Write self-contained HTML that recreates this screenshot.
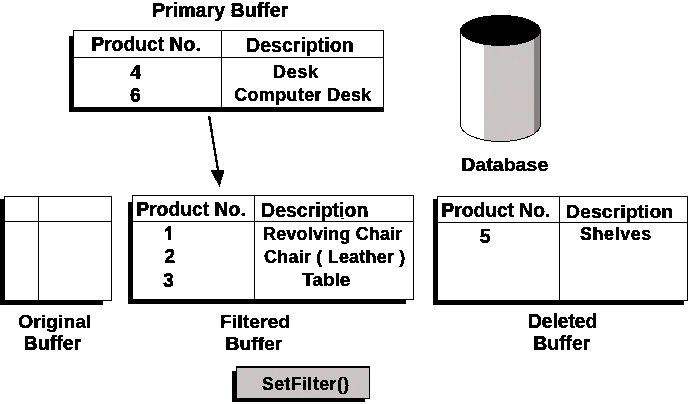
<!DOCTYPE html>
<html>
<head>
<meta charset="utf-8">
<title>Buffers</title>
<style>
html,body{margin:0;padding:0;background:#fff;}
body{width:693px;height:404px;overflow:hidden;position:relative;font-family:"Liberation Sans",sans-serif;}
svg{position:absolute;left:0;top:0;display:block;}
text{font-family:"Liberation Sans",sans-serif;font-weight:bold;fill:#000;stroke:#000;stroke-width:0.4px;stroke-linejoin:round;}
.h{font-size:18px;}
.r{font-size:17px;}
</style>
</head>
<body>
<svg width="693" height="404" viewBox="0 0 693 404">
<rect x="0" y="0" width="693" height="404" fill="#fff"/>
<g shape-rendering="crispEdges" fill="#000">
  <!-- Primary table -->
  <rect x="69" y="36" width="4" height="76"/>
  <rect x="69" y="107" width="315" height="5"/>
  <rect x="73" y="30" width="311" height="1"/>
  <rect x="73" y="30" width="1" height="78"/>
  <rect x="383" y="30" width="1" height="78"/>
  <rect x="73" y="57" width="311" height="1"/>
  <rect x="221" y="30" width="1" height="78"/>

  <!-- Original table -->
  <rect x="0" y="199" width="4" height="106"/>
  <rect x="0" y="300" width="103" height="5"/>
  <rect x="4" y="196" width="108" height="1"/>
  <rect x="4" y="196" width="1" height="105"/>
  <rect x="111" y="196" width="1" height="105"/>
  <rect x="4" y="300" width="108" height="1"/>
  <rect x="4" y="221" width="108" height="1"/>
  <rect x="38" y="196" width="1" height="105"/>

  <!-- Filtered table -->
  <rect x="128" y="202" width="4" height="102"/>
  <rect x="128" y="299" width="278" height="5"/>
  <rect x="132" y="195" width="282" height="1"/>
  <rect x="132" y="195" width="1" height="105"/>
  <rect x="413" y="195" width="1" height="105"/>
  <rect x="132" y="299" width="282" height="1"/>
  <rect x="132" y="221" width="282" height="1"/>
  <rect x="254" y="195" width="1" height="105"/>

  <!-- Deleted table -->
  <rect x="433" y="199" width="4" height="106"/>
  <rect x="433" y="300" width="251" height="5"/>
  <rect x="437" y="196" width="251" height="1"/>
  <rect x="437" y="196" width="1" height="105"/>
  <rect x="687" y="196" width="1" height="105"/>
  <rect x="437" y="300" width="251" height="1"/>
  <rect x="437" y="222" width="251" height="1"/>
  <rect x="559" y="196" width="1" height="105"/>

  <!-- Button -->
  <rect x="232" y="371" width="5" height="31"/>
  <rect x="232" y="398" width="133" height="4"/>
  <rect x="236" y="366" width="134" height="33"/>
  <rect x="237" y="368" width="132" height="30" fill="#c8c6c5"/>
</g>

<rect x="237" y="368" width="132" height="30" fill="#000" filter="url(#tx)"/>
<rect x="341" y="218" width="3" height="1" fill="#000" shape-rendering="crispEdges"/>
<!-- Arrow -->
<line x1="209.1" y1="116" x2="218.4" y2="172" stroke="#000" stroke-width="2.3" shape-rendering="crispEdges"/>
<polygon points="210.5,170.3 224.5,170.3 219.5,187" fill="#000" shape-rendering="crispEdges"/>

<!-- Cylinder -->
<defs>
  <filter id="tx" x="0" y="0" width="693" height="404" filterUnits="userSpaceOnUse" color-interpolation-filters="sRGB"><feTurbulence type="fractalNoise" baseFrequency="0.14 0.09" numOctaves="2" seed="7" result="n"/><feColorMatrix in="n" type="matrix" values="0 0 0 0 0.83  0 0 0 0 0.76  0 0 0 0 0.76  1.6 0 0 0 -0.62"/><feComposite in2="SourceGraphic" operator="in"/></filter>
  <filter id="bw" x="0" y="0" width="693" height="404" filterUnits="userSpaceOnUse" color-interpolation-filters="sRGB"><feComponentTransfer><feFuncA type="discrete" tableValues="0 1"/></feComponentTransfer></filter>
  <clipPath id="cyl"><path d="M460,30 L460,124.5 A40.5,17 0 0 0 541,124.5 L541,30 Z"/></clipPath>
  <linearGradient id="dk" x1="0" x2="1" y1="0" y2="0">
    <stop offset="0" stop-color="#8b8888"/><stop offset="0.2" stop-color="#878080"/><stop offset="1" stop-color="#8a8383"/>
  </linearGradient>
</defs>
<g clip-path="url(#cyl)">
  <rect x="460" y="20" width="81" height="130" fill="#fff"/>
  <rect x="484" y="20" width="50" height="130" fill="#c8c6c5"/>
  <rect x="484" y="20" width="50" height="130" fill="#000" filter="url(#tx)"/>
  <rect x="534" y="20" width="7" height="130" fill="url(#dk)"/>
</g>
<path d="M460.5,30 L460.5,124.5 A40,17 0 0 0 540.5,124.5 L540.5,30" fill="none" stroke="#000" stroke-width="1" shape-rendering="crispEdges"/>
<ellipse cx="500.5" cy="30.5" rx="40.5" ry="15.5" fill="#000" shape-rendering="crispEdges"/>

<!-- Text -->
<g filter="url(#bw)">
<text x="152.00" y="17.0" font-size="19.4" textLength="136.30" lengthAdjust="spacingAndGlyphs">Primary Buffer</text>
<text x="91.20" y="51.0" font-size="19.4" textLength="109.60" lengthAdjust="spacingAndGlyphs">Product No.</text>
<text x="246.00" y="52.0" font-size="19.4" textLength="107.70" lengthAdjust="spacingAndGlyphs">Description</text>
<text x="130.30" y="79.0" font-size="19.5">4</text>
<text x="130.10" y="101.6" font-size="19.5">6</text>
<text x="272.90" y="78.0" font-size="18" textLength="45.40" lengthAdjust="spacing">Desk</text>
<text x="234.20" y="100.8" font-size="17.9" textLength="137.10" lengthAdjust="spacing">Computer Desk</text>
<text x="461.20" y="171.0" font-size="19.2" textLength="87.10" lengthAdjust="spacingAndGlyphs">Database</text>
<text x="136.20" y="216.0" font-size="19.4" textLength="109.60" lengthAdjust="spacingAndGlyphs">Product No.</text>
<text x="261.10" y="217.0" font-size="19.4" textLength="107.20" lengthAdjust="spacingAndGlyphs">Description</text>
<path d="M171.3,240 H167.7 V230.4 Q166.4,231.6 164.6,232.3 V229.1 Q167.5,228 168.7,225.9 H171.3 Z" fill="#000"/>
<text x="164.25" y="263.1" font-size="19.5">2</text>
<text x="163.00" y="286.8" font-size="19.5">3</text>
<text x="263.10" y="240.0" font-size="17.9" textLength="139.20" lengthAdjust="spacing">Revolving Chair</text>
<text x="264.10" y="262.8" font-size="17.9" textLength="141.20" lengthAdjust="spacing">Chair ( Leather )</text>
<text x="302.20" y="285.8" font-size="18.8" textLength="48.10" lengthAdjust="spacingAndGlyphs">Table</text>
<text x="441.40" y="217.0" font-size="19.4" textLength="108.90" lengthAdjust="spacingAndGlyphs">Product No.</text>
<text x="566.00" y="217.7" font-size="19.2" textLength="107.30" lengthAdjust="spacingAndGlyphs">Description</text>
<text x="479.70" y="243.0" font-size="19.5">5</text>
<text x="580.00" y="239.8" font-size="17.9" textLength="71.30" lengthAdjust="spacing">Shelves</text>
<text x="18.00" y="327.5" font-size="19.2" textLength="73.50" lengthAdjust="spacingAndGlyphs">Original</text>
<text x="23.50" y="350.0" font-size="19.3" textLength="58.00" lengthAdjust="spacingAndGlyphs">Buffer</text>
<text x="220.00" y="328.3" font-size="18.8" textLength="70.20" lengthAdjust="spacingAndGlyphs">Filtered</text>
<text x="225.50" y="350.4" font-size="18.8" textLength="56.90" lengthAdjust="spacingAndGlyphs">Buffer</text>
<text x="528.00" y="328.0" font-size="19.3" textLength="69.20" lengthAdjust="spacingAndGlyphs">Deleted</text>
<text x="533.20" y="350.0" font-size="19.3" textLength="57.20" lengthAdjust="spacingAndGlyphs">Buffer</text>
<text x="262.10" y="389.7" font-size="17.6" textLength="87.00" lengthAdjust="spacing">SetFilter()</text>
</g>
</svg>
</body>
</html>
